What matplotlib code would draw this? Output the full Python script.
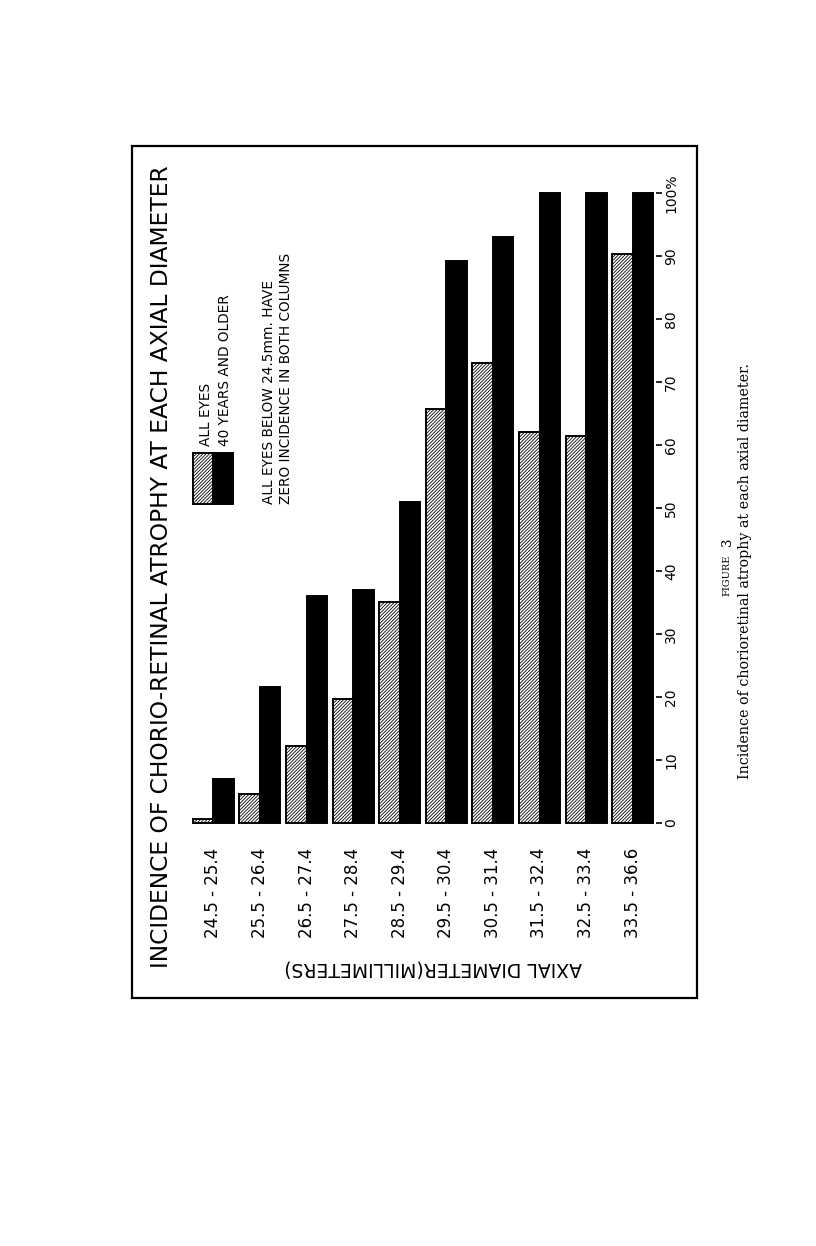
import numpy as np
import matplotlib.pyplot as plt
from matplotlib.patches import Rectangle

# data (percent incidence)
ranges = ['24.5 - 25.4', '25.5 - 26.4', '26.5 - 27.4', '27.5 - 28.4', '28.5 - 29.4',
          '29.5 - 30.4', '30.5 - 31.4', '31.5 - 32.4', '32.5 - 33.4', '33.5 - 36.6']
all_eyes = [0.6, 4.6, 12.2, 19.7, 35.1, 65.7, 73.0, 62.1, 61.4, 90.3]
over_40 = [7.0, 21.6, 36.0, 37.0, 51.0, 89.2, 93.0, 100, 100, 100]
ticks = [0, 10, 20, 30, 40, 50, 60, 70, 80, 90, 100]
tick_labels = ['0', '10', '20', '30', '40', '50', '60', '70', '80', '90', '100%']

W, H = 816, 1246
plt.rcParams['hatch.linewidth'] = 0.6
HATCH = '//////////'


def box(x0, y0, x1, y1):
    # page pixels -> figure fraction
    return [x0 / W, 1 - y1 / H, (x1 - x0) / W, (y1 - y0) / H]


def fx(x):
    return x / W


def fy(y):
    return 1 - y / H


fig = plt.figure(figsize=(W / 100, H / 100), dpi=100)
fig.patch.set_facecolor('white')

ax = fig.add_axes(box(190, 193, 656, 823))
x = np.arange(len(ranges))
w = 0.44
ax.bar(x - w / 2, all_eyes, w, color='white', edgecolor='black', hatch=HATCH,
       linewidth=1.4, clip_on=False)
ax.bar(x + w / 2, over_40, w, color='black', edgecolor='black', linewidth=1.4,
       clip_on=False)
ax.set_xlim(-0.5, 9.5)
ax.set_ylim(0, 100)
for s in ax.spines.values():
    s.set_visible(False)

ax.yaxis.tick_right()
ax.set_yticks(ticks, tick_labels, rotation=90, va='center', fontsize=10)
ax.tick_params(axis='y', length=4, width=1.2, pad=2)
ax.set_xticks(x, ranges, rotation=90, fontsize=12)
ax.tick_params(axis='x', length=0, pad=18)

# title and axis label
fig.text(fx(162), fy(567), 'INCIDENCE OF CHORIO-RETINAL ATROPHY AT EACH AXIAL DIAMETER',
         rotation=90, ha='center', va='center', fontsize=16.8)
fig.text(fx(433), fy(968), 'AXIAL DIAMETER(MILLIMETERS)', rotation=180,
         ha='center', va='center', fontsize=13.5)

# legend
fig.add_artist(Rectangle((fx(193), fy(504)), 20 / W, 51 / H, transform=fig.transFigure,
                         facecolor='white', edgecolor='black', hatch=HATCH, linewidth=1.4))
fig.add_artist(Rectangle((fx(213), fy(504)), 20 / W, 51 / H, transform=fig.transFigure,
                         facecolor='black', edgecolor='black', linewidth=1.4))
fig.text(fx(206), fy(446), 'ALL EYES', rotation=90, ha='center', va='bottom', fontsize=9.8)
fig.text(fx(225), fy(446), '40 YEARS AND OLDER', rotation=90, ha='center', va='bottom', fontsize=9.8)

fig.text(fx(269), fy(504), 'ALL EYES BELOW 24.5mm. HAVE', rotation=90,
         ha='center', va='bottom', fontsize=9.8)
fig.text(fx(286), fy(504), 'ZERO INCIDENCE IN BOTH COLUMNS', rotation=90,
         ha='center', va='bottom', fontsize=9.8)

# frame
fig.add_artist(Rectangle((fx(132), fy(998)), (697 - 132) / W, (998 - 146) / H,
                         transform=fig.transFigure, fill=False, edgecolor='black', linewidth=1.6))

# caption
fig.text(fx(727), fy(596), 'FIGURE', rotation=90, ha='center', va='bottom',
         family='DejaVu Serif', fontsize=7)
fig.text(fx(727), fy(538), '3', rotation=90, ha='center', va='top',
         family='DejaVu Serif', fontsize=9.5)
fig.text(fx(745), fy(571), 'Incidence of chorioretinal atrophy at each axial diameter.',
         rotation=90, ha='center', va='center', family='DejaVu Serif', fontsize=10.3)

fig.savefig('out.png', dpi=100)
